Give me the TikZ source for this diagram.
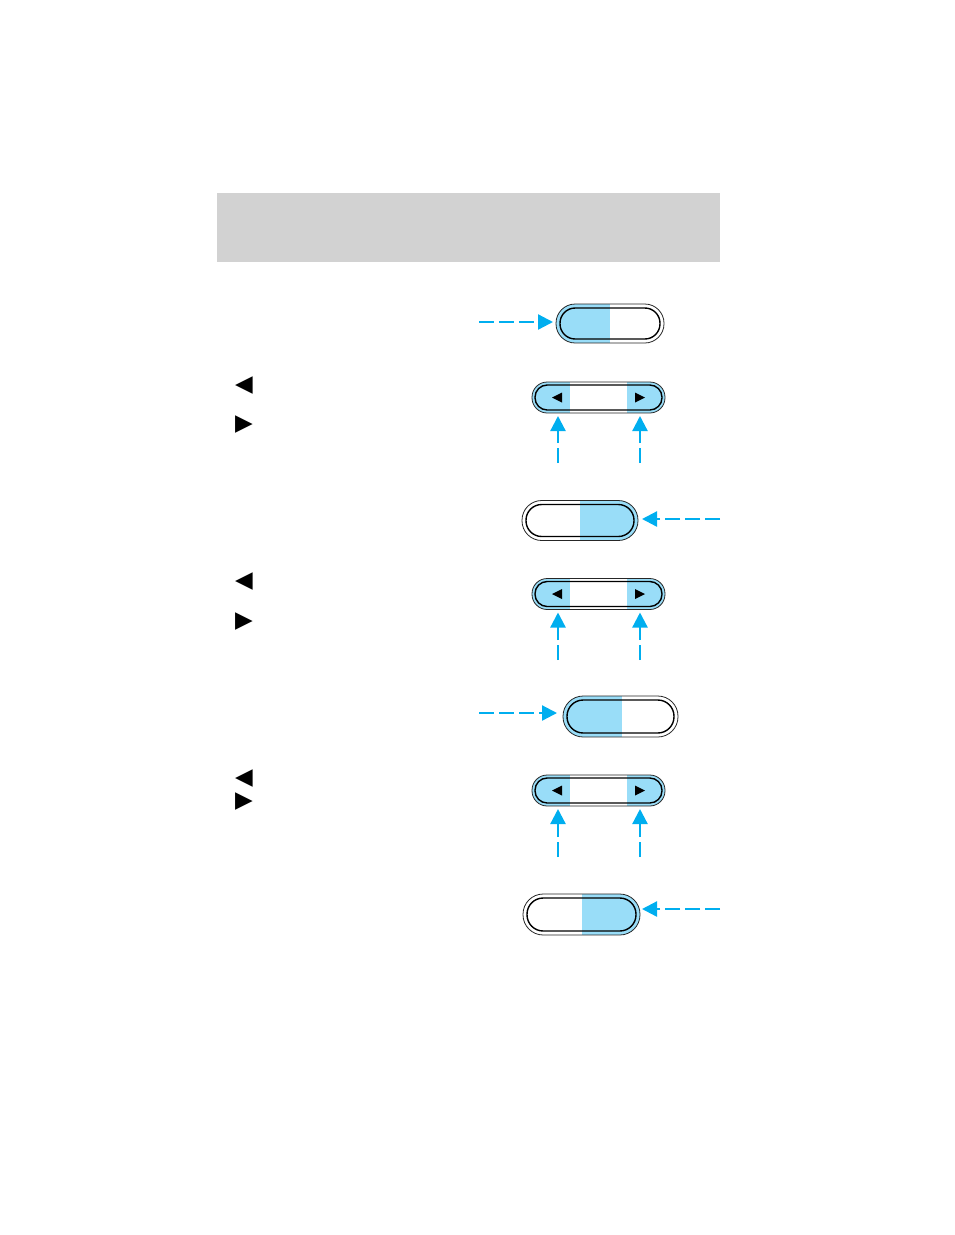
\documentclass[tikz,border=0pt]{standalone}
\usepackage{fontspec}
\newfontfamily\symfont{DejaVu Sans}
\usetikzlibrary{arrows.meta}
\definecolor{hdrgray}{RGB}{210,210,210}
\definecolor{lblue}{RGB}{153,221,248}
\definecolor{cyanarr}{RGB}{0,174,239}
\tikzset{
  btnouter/.style={draw=black!85, line width=0.8pt, inner sep=0pt, outer sep=0pt},
  btninner/.style={draw=black, line width=1.4pt},
  callout/.style={draw=cyanarr, line width=2.3pt, dash pattern=on 15pt off 5pt,
    -{Triangle[length=15pt,width=15pt]}},
  sym/.style={font=\symfont\fontsize{23}{23}\selectfont, inner sep=0pt},
  leftblue/.style={path picture={\fill[lblue, sharp corners] (path picture bounding box.south west)
    rectangle ([xshift=#1]path picture bounding box.north);}},
  rightblue/.style={path picture={\fill[lblue, sharp corners] ([xshift=#1]path picture bounding box.south)
    rectangle (path picture bounding box.north east);}},
  tunerblue/.style={path picture={
    \fill[lblue, sharp corners] (path picture bounding box.south west)
      rectangle ([xshift=-28.5pt]path picture bounding box.north);
    \fill[lblue, sharp corners] ([xshift=28.5pt]path picture bounding box.south)
      rectangle (path picture bounding box.north east);}},
  tuner/.style={btnouter, tunerblue, minimum width=133pt, minimum height=31pt, rounded corners=15.2pt},
}
\newcommand\mytuner[2]{%
  \node[tuner] (#1) at (598.5,#2) {};
  \draw[btninner, rounded corners=12.2pt] ([shift={(3,3)}]#1.north west) rectangle ([shift={(-3,-3)}]#1.south east);
  \fill ([shift={(-46.5,0)}]#1.center) -- ([shift={(-36.5,-5)}]#1.center) -- ([shift={(-36.5,5)}]#1.center) -- cycle;
  \fill ([shift={(46.5,0)}]#1.center) -- ([shift={(36.5,-5)}]#1.center) -- ([shift={(36.5,5)}]#1.center) -- cycle;
}
\begin{document}
\begin{tikzpicture}[x=1pt,y=-1pt]
\useasboundingbox (0,0) rectangle (954,1235);
% header band
\node[fill=hdrgray, minimum width=503pt, minimum height=69pt, inner sep=0pt] (header) at (468.5,227.5) {};

% button 1
\node[btnouter, leftblue=0pt, minimum width=108pt, minimum height=39pt, rounded corners=19.2pt] (b1) at (610,323.5) {};
\draw[btninner, rounded corners=15.2pt] ([shift={(4,4)}]b1.north west) rectangle ([shift={(-4,-4)}]b1.south east);
\coordinate (s1) at (479,322);
\draw[callout, shorten >=3pt] (s1) -- (s1 -| b1.west);

% tuner 1
\mytuner{t1}{397.5}
\coordinate (u1) at (558,463);
\coordinate (u2) at (640,463);
\draw[callout, shorten >=3pt] (u1) -- (u1 |- t1.south);
\draw[callout, shorten >=3pt] (u2) -- (u2 |- t1.south);
\node[sym] (l1) at (244,386) {◀};
\node[sym] (r1) at (244,424.5) {▶};

% button 3
\node[btnouter, rightblue=0pt, minimum width=116pt, minimum height=40pt, rounded corners=19.7pt] (b3) at (580,520.5) {};
\draw[btninner, rounded corners=15.7pt] ([shift={(4,4)}]b3.north west) rectangle ([shift={(-4,-4)}]b3.south east);
\coordinate (s3) at (720,519);
\draw[callout, shorten >=4pt] (s3) -- (s3 -| b3.east);

% tuner 2
\mytuner{t2}{594}
\coordinate (u3) at (558,660);
\coordinate (u4) at (640,660);
\draw[callout, shorten >=3pt] (u3) -- (u3 |- t2.south);
\draw[callout, shorten >=3pt] (u4) -- (u4 |- t2.south);
\node[sym] (l2) at (244,582) {◀};
\node[sym] (r2) at (244,621.5) {▶};

% button 5
\node[btnouter, leftblue=1.5pt, minimum width=115pt, minimum height=41pt, rounded corners=20.2pt] (b5) at (620.5,716.5) {};
\draw[btninner, rounded corners=16.2pt] ([shift={(4,4)}]b5.north west) rectangle ([shift={(-4,-4)}]b5.south east);
\coordinate (s5) at (479,713);
\draw[callout, shorten >=6pt] (s5) -- (s5 -| b5.west);

% tuner 3
\mytuner{t3}{790.5}
\coordinate (u5) at (558,857);
\coordinate (u6) at (640,857);
\draw[callout, shorten >=3pt] (u5) -- (u5 |- t3.south);
\draw[callout, shorten >=3pt] (u6) -- (u6 |- t3.south);
\node[sym] (l3) at (244,779) {◀};
\node[sym] (r3) at (244,802) {▶};

% button 7
\node[btnouter, rightblue=0.5pt, minimum width=117pt, minimum height=41pt, rounded corners=20.2pt] (b7) at (581.5,914.5) {};
\draw[btninner, rounded corners=16.2pt] ([shift={(4,4)}]b7.north west) rectangle ([shift={(-4,-4)}]b7.south east);
\coordinate (s7) at (720,909);
\draw[callout, shorten >=2pt] (s7) -- (s7 -| b7.east);
\end{tikzpicture}
\end{document}
